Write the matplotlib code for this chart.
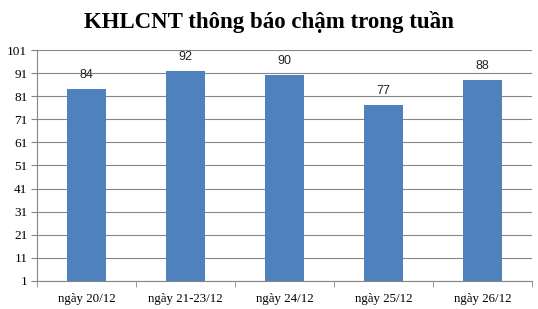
import matplotlib

matplotlib.use("Agg")
import matplotlib.pyplot as plt  # noqa: E402
import numpy as np  # noqa: E402

categories = ["ngày 20/12", "ngày 21-23/12", "ngày 24/12", "ngày 25/12", "ngày 26/12"]
values = [84, 92, 90, 77, 88]
yticks = [1, 11, 21, 31, 41, 51, 61, 71, 81, 91, 101]

BLUE = "#4F81BD"
GRID = "#868686"

fig = plt.figure(figsize=(5.38, 3.09), dpi=100)
ax = fig.add_axes([0.069, 0.091, 0.920, 0.747])

x = np.arange(len(categories))
ax.bar(x, values, width=0.4, bottom=0, color=BLUE, zorder=3)
for xi, v in zip(x, values):
    ax.text(xi, v + 3.6, f"{v}", ha="center", va="bottom", fontsize=9,
            family="Liberation Sans", color="#222222")

ax.set_xlim(-0.5, len(categories) - 0.5)
ax.set_ylim(1, 101)
ax.set_yticks(yticks)
ax.set_yticklabels([str(t) for t in yticks], family="Liberation Serif", fontsize=9.5)
ax.yaxis.grid(True, color=GRID, lw=0.8, zorder=0)
ax.set_xticks(x)
ax.set_xticklabels(categories, family="Liberation Serif", fontsize=9.3)
ax.set_xticks(np.arange(-0.5, len(categories)), minor=True)
ax.tick_params(axis="x", which="major", length=0, pad=9)
ax.tick_params(axis="x", which="minor", length=4, color=GRID, direction="out")
ax.tick_params(axis="y", length=4, color=GRID, direction="out", pad=3)
for side in ["top", "right"]:
    ax.spines[side].set_visible(False)
for side in ["left", "bottom"]:
    ax.spines[side].set_color(GRID)

fig.suptitle("KHLCNT thông báo chậm trong tuần", family="Liberation Serif",
             fontweight="bold", fontsize=16.5, y=0.965)

fig.savefig("out.png", dpi=100)
